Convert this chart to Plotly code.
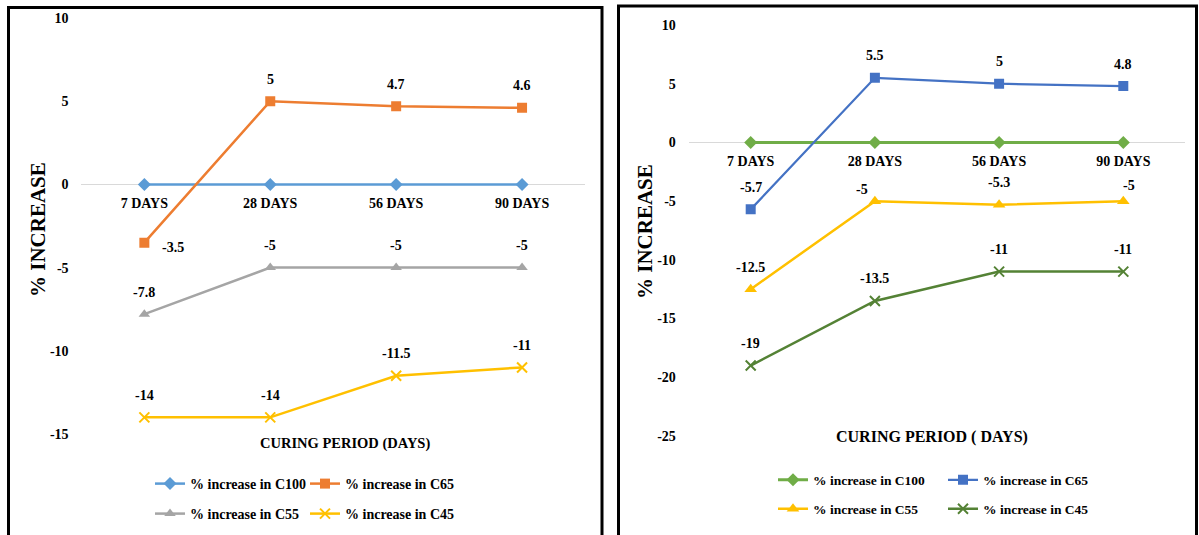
import plotly.graph_objects as go

# ---------------- data ----------------
categories = ["7 DAYS", "28 DAYS", "56 DAYS", "90 DAYS"]
series_names = ["% increase in C100", "% increase in C65", "% increase in C55", "% increase in C45"]

left_c100 = [0, 0, 0, 0]
left_c65 = [-3.5, 5, 4.7, 4.6]
left_c55 = [-7.8, -5, -5, -5]
left_c45 = [-14, -14, -11.5, -11]

right_c100 = [0, 0, 0, 0]
right_c65 = [-5.7, 5.5, 5, 4.8]
right_c55 = [-12.5, -5, -5.3, -5]
right_c45 = [-19, -13.5, -11, -11]

left_yticks = [10, 5, 0, -5, -10, -15]
right_yticks = [10, 5, 0, -5, -10, -15, -20, -25]

left_xtitle = "CURING PERIOD (DAYS)"
right_xtitle = "CURING PERIOD ( DAYS)"
ytitle = "% INCREASE"

# ---------------- styling helpers ----------------
W, H = 1199, 535
FONT = "Liberation Serif, Times New Roman, serif"


def fx(p):
    return p / W


def fy(p):
    return 1 - p / H


fig = go.Figure()

left_styles = [
    dict(color="#5B9BD5", symbol="diamond", size=10),
    dict(color="#ED7D31", symbol="square", size=10),
    dict(color="#A5A5A5", symbol="triangle-up", size=10),
    dict(color="#FFC000", symbol="x-thin-open", size=10),
]
right_styles = [
    dict(color="#70AD47", symbol="diamond", size=10),
    dict(color="#4472C4", symbol="square", size=10),
    dict(color="#FFC000", symbol="triangle-up", size=11),
    dict(color="#548235", symbol="x-thin-open", size=10),
]

left_series = [left_c100, left_c65, left_c55, left_c45]
right_series = [right_c100, right_c65, right_c55, right_c45]

# legend positions (px): left edge, row centre
left_leg_pos = [(150, 484), (305, 484), (150, 514), (305, 514)]
right_leg_pos = [(773, 480), (943, 480), (773, 509), (943, 509)]

annotations = []
legends = {}
legend_idx = 1


def add_panel(series, styles, xa, ya, leg_pos, lw, label_shifts, legfont):
    global legend_idx
    for i, (vals, st, name) in enumerate(zip(series, styles, series_names)):
        lname = "legend" if legend_idx == 1 else f"legend{legend_idx}"
        marker = dict(symbol=st["symbol"], size=st["size"], color=st["color"])
        if "open" in st["symbol"]:
            marker["line"] = dict(color=st["color"], width=2)
        else:
            marker["line"] = dict(width=0)
        fig.add_trace(go.Scatter(
            x=categories, y=vals, name=name, mode="lines+markers",
            line=dict(color=st["color"], width=lw[i]), marker=marker,
            xaxis=xa, yaxis=ya, legend=lname, hoverinfo="skip",
        ))
        lx, ly = leg_pos[i]
        legends[lname] = dict(
            x=fx(lx), y=fy(ly), xanchor="left", yanchor="middle",
            orientation="h", bgcolor="rgba(0,0,0,0)", borderwidth=0,
            font=dict(family=FONT, size=legfont, color="#000", weight="bold"),
            itemwidth=30, tracegroupgap=0,
        )
        legend_idx += 1
        if i == 0:
            continue  # no data labels on C100
        for j, v in enumerate(vals):
            dxs, dys = label_shifts.get((i, j), (0, 22))
            annotations.append(dict(
                x=categories[j], y=v, xref=xa, yref=ya, text=f"{v:g}",
                xanchor="center", yanchor="middle",
                showarrow=False, xshift=dxs, yshift=dys,
                font=dict(family=FONT, size=14, color="#000", weight="bold"),
            ))


add_panel(left_series, left_styles, "x", "y", left_leg_pos, [2.5, 2.5, 2.5, 2.5],
          {(1, 0): (29, -5)}, 14)
add_panel(right_series, right_styles, "x2", "y2", right_leg_pos, [3, 2.25, 2.5, 2.5],
          {(2, 1): (-13, 12), (2, 3): (6, 16)}, 13.5)

# axis titles
title_font = lambda s: dict(family=FONT, size=s, color="#000", weight="bold")
annotations += [
    dict(x=fx(38), y=fy(230), xref="paper", yref="paper", text=ytitle, textangle=-90,
         xanchor="center", yanchor="middle", showarrow=False, font=title_font(21)),
    dict(x=fx(645), y=fy(232), xref="paper", yref="paper", text=ytitle, textangle=-90,
         xanchor="center", yanchor="middle", showarrow=False, font=title_font(21)),
    dict(x=fx(345), y=fy(443), xref="paper", yref="paper", text=left_xtitle,
         xanchor="center", yanchor="middle", showarrow=False, font=title_font(14.5)),
    dict(x=fx(932), y=fy(437), xref="paper", yref="paper", text=right_xtitle,
         xanchor="center", yanchor="middle", showarrow=False, font=title_font(16)),
]

tickfont = dict(family=FONT, size=14, color="#000", weight="bold")
xtickfont = dict(family=FONT, size=14, color="#000", weight="bold")

common_x = dict(type="category", categoryarray=categories, range=[-0.5, 3.5],
                showgrid=False, zeroline=False, showline=False, ticks="outside",
                ticklen=6, tickcolor="rgba(0,0,0,0)", tickfont=xtickfont, anchor="free",
                automargin=False, fixedrange=True)
common_y = dict(showgrid=False, zeroline=True, zerolinecolor="#D9D9D9", zerolinewidth=1,
                showline=False, ticks="outside", ticklen=9, tickcolor="rgba(0,0,0,0)",
                tickfont=tickfont, automargin=False, fixedrange=True)

shapes = [
    dict(type="rect", xref="paper", yref="paper", x0=fx(8.5), x1=fx(602), y0=fy(545), y1=fy(7.5),
         line=dict(color="#000", width=3), fillcolor="rgba(0,0,0,0)", layer="above"),
    dict(type="rect", xref="paper", yref="paper", x0=fx(618.5), x1=fx(1196.5), y0=fy(545), y1=fy(6),
         line=dict(color="#000", width=3), fillcolor="rgba(0,0,0,0)", layer="above"),
]

fig.update_layout(
    template="none",
    width=W, height=H, autosize=False,
    margin=dict(l=0, r=0, t=0, b=0, pad=0, autoexpand=False),
    paper_bgcolor="white", plot_bgcolor="white",
    font=dict(family=FONT, color="#000"),
    xaxis=dict(domain=[fx(81.4), fx(585)], position=fy(184.5), **common_x),
    yaxis=dict(domain=[fy(434), fy(18)], range=[-15, 10], tickvals=left_yticks,
               ticktext=[f"{t:g}" for t in left_yticks], anchor="x", **common_y),
    xaxis2=dict(domain=[fx(688.6), fx(1185.4)], position=fy(142.5), **common_x),
    yaxis2=dict(domain=[fy(436), fy(25)], range=[-25, 10], tickvals=right_yticks,
                ticktext=[f"{t:g}" for t in right_yticks], anchor="x2", **common_y),
    annotations=annotations,
    shapes=shapes,
    showlegend=True,
    **legends,
)

fig.write_html("out.html", config={"displayModeBar": False},
               post_script="document.body.style.margin='0';")
